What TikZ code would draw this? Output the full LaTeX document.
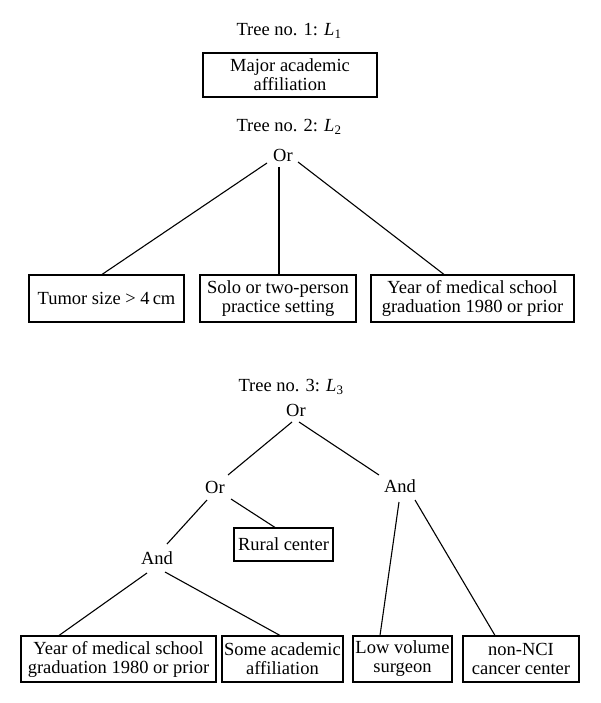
\documentclass[tikz,border=0pt]{standalone}
\usepackage{fontspec}
\setmainfont{Liberation Serif}
\begin{document}
\begin{tikzpicture}[x=1pt,y=-1pt,
  font=\fontsize{18.5}{19}\selectfont,
  box/.style={draw, line width=1.1pt, align=center, inner sep=0pt},
  lbl/.style={inner sep=0pt},
  conn/.style={line width=1.1pt}]
\useasboundingbox (0,0) rectangle (600,703);

% Tree 1
\node[lbl] (t1) at (289,31) {Tree no. 1: \textit{L}\textsubscript{1}};
\node[box, minimum width=174pt, minimum height=44pt] (maj) at (290,75) {Major academic\\affiliation};

% Tree 2
\node[lbl] (t2) at (289,127) {Tree no. 2: \textit{L}\textsubscript{2}};
\node[lbl] (or2) at (283,155) {Or};
\node[box, minimum width=155pt, minimum height=47pt] (tumor) at (106.5,298.5) {Tumor size > 4\,cm};
\node[box, minimum width=156pt, minimum height=47pt] (solo) at (278,298.5) {Solo or two-person\\practice setting};
\node[box, minimum width=203pt, minimum height=47pt] (year2) at (472.5,298.5) {Year of medical school\\graduation 1980 or prior};

\draw[conn] ([shift={(-16,8)}]or2.center) -- ([xshift=-4.5pt]tumor.north);
\draw[conn] ([shift={(-4,12)}]or2.center) -- ([xshift=1pt]solo.north);
\draw[conn] ([shift={(15,7)}]or2.center) -- ([xshift=-28.5pt]year2.north);

% Tree 3
\node[lbl] (t3) at (291,387) {Tree no. 3: \textit{L}\textsubscript{3}};
\node[lbl] (or3) at (296,410) {Or};
\node[lbl] (or3m) at (215,487) {Or};
\node[lbl] (and3l) at (157,558) {And};
\node[lbl] (and3r) at (400,486) {And};
\node[box, minimum width=99pt, minimum height=33pt] (rural) at (283.5,544.5) {Rural center};
\node[box, minimum width=195pt, minimum height=46pt] (year3) at (118.5,659) {Year of medical school\\graduation 1980 or prior};
\node[box, minimum width=121pt, minimum height=46pt] (some) at (282.5,659) {Some academic\\affiliation};
\node[box, minimum width=99pt, minimum height=46pt] (low) at (402.5,659) {Low volume\\surgeon};
\node[box, minimum width=116pt, minimum height=46pt] (nci) at (521,659) {non-NCI\\cancer center};

\draw[conn] ([shift={(-4,12)}]or3.center) -- ([shift={(13,-12)}]or3m.center);
\draw[conn] ([shift={(3,12)}]or3.center) -- ([shift={(-21,-11)}]and3r.center);
\draw[conn] ([shift={(-8,13)}]or3m.center) -- ([shift={(10,-14)}]and3l.center);
\draw[conn] ([shift={(16,12)}]or3m.center) -- ([xshift=-8.5pt]rural.north);
\draw[conn] ([shift={(-10,15)}]and3l.center) -- ([xshift=-59.5pt]year3.north);
\draw[conn] ([shift={(8,14)}]and3l.center) -- ([xshift=-2.5pt]some.north);
\draw[conn] ([shift={(-1,16)}]and3r.center) -- ([xshift=-22.5pt]low.north);
\draw[conn] ([shift={(15,14)}]and3r.center) -- ([xshift=-26pt]nci.north);
\end{tikzpicture}
\end{document}
